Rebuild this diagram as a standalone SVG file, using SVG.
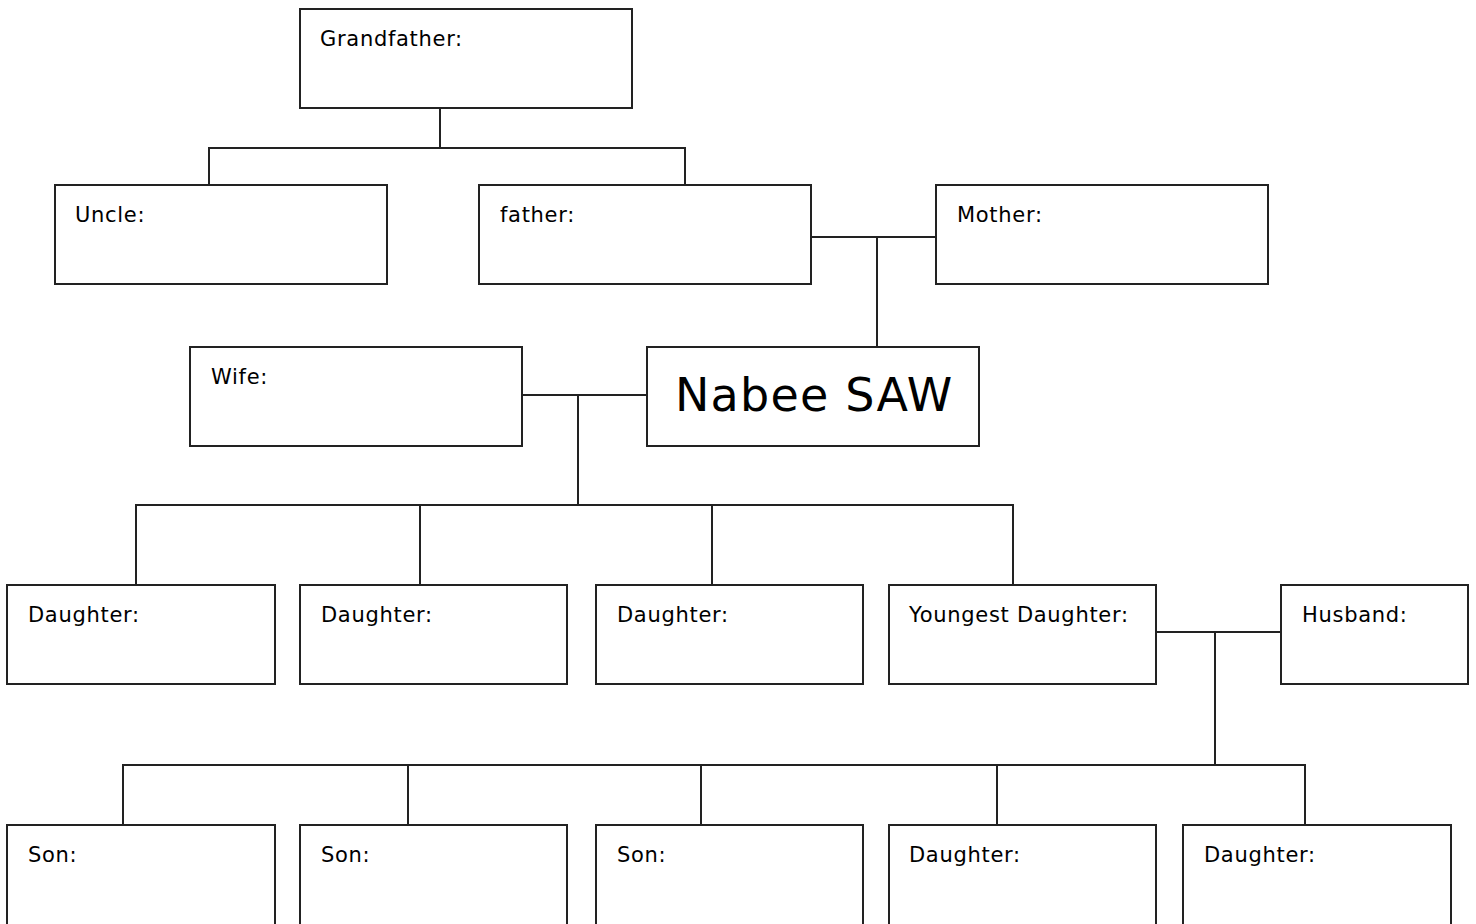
<svg xmlns="http://www.w3.org/2000/svg" width="1476" height="924" viewBox="0 0 1476 924">
<style>
.box{fill:#fff;stroke:#222;stroke-width:2}
.lbl{font-family:"DejaVu Sans","Liberation Sans",sans-serif;font-size:21px;letter-spacing:0.7px;fill:#000}
.big{font-family:"DejaVu Sans","Liberation Sans",sans-serif;font-size:46px;letter-spacing:1.2px;fill:#000}
.con{fill:none;stroke:#222;stroke-width:2}
</style>
<rect width="1476" height="924" fill="#fff"/>
<g id="connectors" class="con">
<path d="M440,108V148M209,185V148H685V185"/>
<path d="M811,237H936M877,237V347"/>
<path d="M522,395H647M578,395V505"/>
<path d="M136,585V505H1013V585M420,505V585M712,505V585"/>
<path d="M1156,632H1281M1215,632V765"/>
<path d="M123,825V765H1305V825M408,765V825M701,765V825M997,765V825"/>
</g>
<g id="grandfather"><rect class="box" x="300" y="9" width="332" height="99"/><text class="lbl" x="320" y="46">Grandfather:</text></g>
<g id="uncle"><rect class="box" x="55" y="185" width="332" height="99"/><text class="lbl" x="75" y="222">Uncle:</text></g>
<g id="father"><rect class="box" x="479" y="185" width="332" height="99"/><text class="lbl" x="500" y="222">father:</text></g>
<g id="mother"><rect class="box" x="936" y="185" width="332" height="99"/><text class="lbl" x="957" y="222">Mother:</text></g>
<g id="wife"><rect class="box" x="190" y="347" width="332" height="99"/><text class="lbl" x="211" y="384">Wife:</text></g>
<g id="nabee"><rect class="box" x="647" y="347" width="332" height="99"/><text class="big" x="675" y="411">Nabee SAW</text></g>
<g id="daughter1"><rect class="box" x="7" y="585" width="268" height="99"/><text class="lbl" x="28" y="622">Daughter:</text></g>
<g id="daughter2"><rect class="box" x="300" y="585" width="267" height="99"/><text class="lbl" x="321" y="622">Daughter:</text></g>
<g id="daughter3"><rect class="box" x="596" y="585" width="267" height="99"/><text class="lbl" x="617" y="622">Daughter:</text></g>
<g id="youngest"><rect class="box" x="889" y="585" width="267" height="99"/><text class="lbl" x="909" y="622">Youngest Daughter:</text></g>
<g id="husband"><rect class="box" x="1281" y="585" width="187" height="99"/><text class="lbl" x="1302" y="622">Husband:</text></g>
<g id="son1"><rect class="box" x="7" y="825" width="268" height="110"/><text class="lbl" x="28" y="862">Son:</text></g>
<g id="son2"><rect class="box" x="300" y="825" width="267" height="110"/><text class="lbl" x="321" y="862">Son:</text></g>
<g id="son3"><rect class="box" x="596" y="825" width="267" height="110"/><text class="lbl" x="617" y="862">Son:</text></g>
<g id="granddaughter1"><rect class="box" x="889" y="825" width="267" height="110"/><text class="lbl" x="909" y="862">Daughter:</text></g>
<g id="granddaughter2"><rect class="box" x="1183" y="825" width="268" height="110"/><text class="lbl" x="1204" y="862">Daughter:</text></g>
</svg>
